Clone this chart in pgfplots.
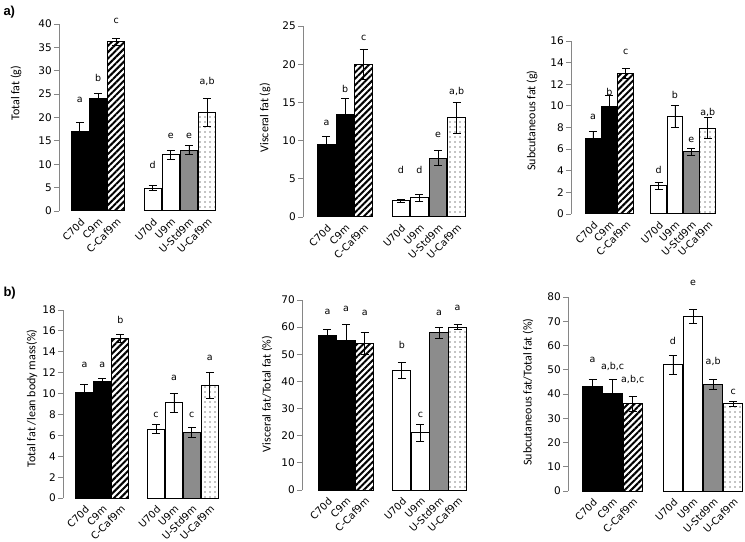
\documentclass[border=0pt]{standalone}
\usepackage{fontspec}
\setmainfont{DejaVu Sans}
\newfontfamily\labfont{Carlito}
\newfontfamily\tagfont{Liberation Sans}
\usepackage{pgfplots}
\pgfplotsset{compat=1.18}
\usetikzlibrary{patterns.meta}
\definecolor{axgray}{HTML}{868686}
\definecolor{bargray}{HTML}{8C8C8C}
\newcommand\tfs{\fontsize{10.5bp}{11bp}\selectfont}
\newcommand\lefs{\fontsize{9.5bp}{10bp}\selectfont}
\newcommand\xfs{\fontsize{10bp}{11bp}\selectfont}
\newcommand\lfs{\labfont\fontsize{12bp}{13bp}\selectfont}
\pgfplotsset{
  panel/.style={
    scale only axis, anchor=south west, clip=false,
    ybar, ymin=0, xmax=7.6,
    axis y line*=left, axis x line*=bottom,
    x axis line style={draw=none},
    y axis line style={draw=axgray, line width=0.8bp, -},
    xtick={0,1,2,4,5,6,7},
    xticklabels={C70d,C9m,C-Caf9m,U70d,U9m,U-Std9m,U-Caf9m},
    xtick style={draw=none},
    ytick style={draw=axgray, line width=0.8bp},
    tick align=outside, major tick length=5bp,
    x tick label style={font=\xfs, rotate=45, anchor=north east, inner sep=1bp},
    y tick label style={font=\tfs, inner sep=2bp},
    /pgf/number format/assume math mode=true,
  },
  yl/.style 2 args={every axis y label/.style={at={(axis description cs:0,#2)},
    xshift=-#1, rotate=90, anchor=center, font=\lfs}},
  eb/.style={bar shift=0pt, line width=1bp,
    error bars/y dir=both, error bars/y explicit,
    error bars/error bar style={black, line width=0.8bp, solid},
    error bars/error mark options={black, mark size=4bp, line width=0.8bp, rotate=90}},
  blk/.style={eb, fill=black, draw=black},
  strp/.style={eb, draw=black, pattern={Lines[angle=45, distance=4.5bp, line width=2bp]}, pattern color=black},
  wht/.style={eb, fill=white, draw=black},
  gry/.style={eb, fill=bargray, draw=black},
  dts/.style={eb, draw=black, pattern={Dots[distance=5bp, radius=0.55bp]}, pattern color=black},
}
\tikzset{lt/.style={font=\lefs, inner sep=0pt}}
\begin{document}
\begin{tikzpicture}
\path[use as bounding box] (0bp,0bp) rectangle (745bp,542bp);
\node[anchor=west, font=\tagfont\bfseries\fontsize{13bp}{13bp}\selectfont] at (0bp,530bp) {a)};
\node[anchor=west, font=\tagfont\bfseries\fontsize{13bp}{13bp}\selectfont] at (0bp,249bp) {b)};

% a1 Total fat
\begin{axis}[panel, at={(59bp,331bp)}, width=159bp, height=187bp, xmin=-1.15, ymax=40,
  ytick={0,5,...,40}, bar width=0.93, yl={43bp}{0.63}, ylabel={Total fat (g)}]
\addplot[blk] coordinates {(0,17) +- (0,2) (1,24) +- (0,1.2)};
\addplot[strp] coordinates {(2,36.2) +- (0,0.8)};
\addplot[wht] coordinates {(4,4.9) +- (0,0.6) (5,12) +- (0,1)};
\addplot[gry] coordinates {(6,13) +- (0,1)};
\addplot[dts] coordinates {(7,21.1) +- (0,3)};
\node[lt] at (axis cs:0,23.7) {a};
\node[lt] at (axis cs:1,28.4) {b};
\node[lt] at (axis cs:2,40.6) {c};
\node[lt] at (axis cs:4,9.8) {d};
\node[lt] at (axis cs:5,16.0) {e};
\node[lt] at (axis cs:6,16.0) {e};
\node[lt] at (axis cs:7,27.7) {a,b};
\end{axis}

% a2 Visceral fat
\begin{axis}[panel, at={(303bp,325bp)}, width=164.8bp, height=191bp, xmin=-1.26, ymax=25,
  ytick={0,5,...,25}, bar width=0.93, yl={38bp}{0.52}, ylabel={Visceral fat (g)}]
\addplot[blk] coordinates {(0,9.5) +- (0,1) (1,13.4) +- (0,2.1)};
\addplot[strp] coordinates {(2,20) +- (0,2)};
\addplot[wht] coordinates {(4,2.1) +- (0,0.2) (5,2.5) +- (0,0.5)};
\addplot[gry] coordinates {(6,7.7) +- (0,1)};
\addplot[dts] coordinates {(7,13) +- (0,2)};
\node[lt] at (axis cs:0,12.3) {a};
\node[lt] at (axis cs:1,16.8) {b};
\node[lt] at (axis cs:2,23.4) {c};
\node[lt] at (axis cs:4,6.2) {d};
\node[lt] at (axis cs:5,6.2) {d};
\node[lt] at (axis cs:6,10.7) {e};
\node[lt] at (axis cs:7,16.4) {a,b};
\end{axis}

% a3 Subcutaneous fat
\begin{axis}[panel, at={(571bp,328bp)}, width=146.6bp, height=173bp, xmin=-1.34, ymax=16,
  ytick={0,2,...,16}, bar width=0.97, yl={39bp}{0.54}, ylabel={Subcutaneous fat (g)}]
\addplot[blk] coordinates {(0,7) +- (0,0.6) (1,9.9) +- (0,1.1)};
\addplot[strp] coordinates {(2,13) +- (0,0.5)};
\addplot[wht] coordinates {(4,2.6) +- (0,0.35) (5,9) +- (0,1)};
\addplot[gry] coordinates {(6,5.75) +- (0,0.35)};
\addplot[dts] coordinates {(7,7.95) +- (0,1)};
\node[lt] at (axis cs:0,9.0) {a};
\node[lt] at (axis cs:1,11.3) {b};
\node[lt] at (axis cs:2,15.0) {c};
\node[lt] at (axis cs:4,4.1) {d};
\node[lt] at (axis cs:5,11.0) {b};
\node[lt] at (axis cs:6,6.85) {e};
\node[lt] at (axis cs:7,9.4) {a,b};
\end{axis}

% b1 Total fat / lean body mass
\begin{axis}[panel, at={(63bp,44bp)}, width=157.5bp, height=188bp, xmin=-1.2, ymax=18,
  ytick={0,2,...,18}, bar width=0.95, yl={31bp}{0.53}, ylabel={Total fat /lean body mass(\%)}]
\addplot[blk] coordinates {(0,10.1) +- (0,0.8) (1,11.2) +- (0,0.25)};
\addplot[strp] coordinates {(2,15.3) +- (0,0.4)};
\addplot[wht] coordinates {(4,6.6) +- (0,0.4) (5,9.1) +- (0,0.9)};
\addplot[gry] coordinates {(6,6.3) +- (0,0.5)};
\addplot[dts] coordinates {(7,10.8) +- (0,1.25)};
\node[lt] at (axis cs:0,12.7) {a};
\node[lt] at (axis cs:1,12.7) {a};
\node[lt] at (axis cs:2,17.0) {b};
\node[lt] at (axis cs:4,8.0) {c};
\node[lt] at (axis cs:5,11.5) {a};
\node[lt] at (axis cs:6,8.0) {c};
\node[lt] at (axis cs:7,13.4) {a};
\end{axis}

% b2 Visceral fat / total fat
\begin{axis}[panel, at={(302bp,52bp)}, width=166.8bp, height=190bp, xmin=-1.37, ymax=70,
  ytick={0,10,...,70}, bar width=0.98, yl={35bp}{0.505}, ylabel={Visceral fat/Total fat (\%)}]
\addplot[blk] coordinates {(0,57) +- (0,2) (1,55) +- (0,6)};
\addplot[strp] coordinates {(2,54) +- (0,4)};
\addplot[wht] coordinates {(4,44) +- (0,3) (5,21) +- (0,3)};
\addplot[gry] coordinates {(6,58) +- (0,2)};
\addplot[dts] coordinates {(7,60) +- (0,1)};
\node[lt] at (axis cs:0,65.7) {a};
\node[lt] at (axis cs:1,66.9) {a};
\node[lt] at (axis cs:2,65.1) {a};
\node[lt] at (axis cs:4,53.5) {b};
\node[lt] at (axis cs:5,27.5) {c};
\node[lt] at (axis cs:6,65.3) {a};
\node[lt] at (axis cs:7,67.2) {a};
\end{axis}

% b3 Subcutaneous fat / total fat
\begin{axis}[panel, at={(568bp,51bp)}, width=177.3bp, height=194bp, xmin=-1.22, ymax=80,
  ytick={0,10,...,80}, bar width=0.95, yl={40bp}{0.51}, ylabel={Subcutaneous fat/Total fat (\%)}]
\addplot[blk] coordinates {(0,43) +- (0,3) (1,40) +- (0,6)};
\addplot[strp] coordinates {(2,36) +- (0,3)};
\addplot[wht] coordinates {(4,52) +- (0,4) (5,72) +- (0,3)};
\addplot[gry] coordinates {(6,44) +- (0,2)};
\addplot[dts] coordinates {(7,36) +- (0,1)};
\node[lt] at (axis cs:0,54.1) {a};
\node[lt] at (axis cs:1,51.3) {a,b,c};
\node[lt] at (axis cs:2,45.8) {a,b,c};
\node[lt] at (axis cs:4,61.7) {d};
\node[lt] at (axis cs:5,85.8) {e};
\node[lt] at (axis cs:6,53.4) {a,b};
\node[lt] at (axis cs:7,41.0) {c};
\end{axis}
\end{tikzpicture}
\end{document}
